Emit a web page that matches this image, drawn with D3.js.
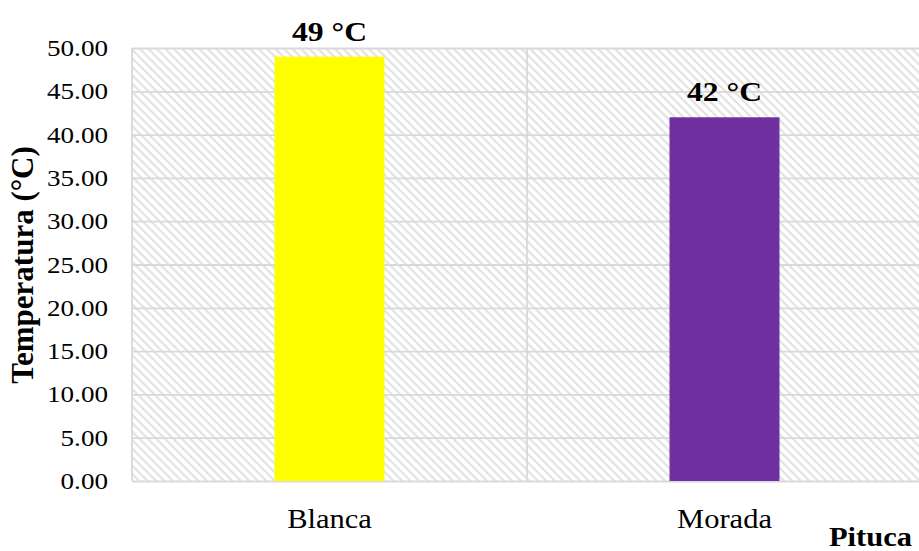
<!DOCTYPE html>
<html>
<head>
<meta charset="utf-8">
<script src="https://cdn.jsdelivr.net/npm/d3@7"></script>
<style>
  html, body { margin: 0; padding: 0; background: #ffffff; }
  svg { display: block; }
  text { font-family: "Liberation Serif", "Times New Roman", serif; fill: #000; }
</style>
</head>
<body>
<svg id="chart" width="919" height="551"></svg>
<script>
// Peak temperature per variety
const categories = ["Blanca", "Morada"];
const temperatures = [49, 42];
const barColors = ["#ffff00", "#7030a0"];
const valueLabels = ["49 °C", "42 °C"];
const yTicks = [0, 5, 10, 15, 20, 25, 30, 35, 40, 45, 50];

const svg = d3.select("#chart");
const margin = { left: 132, top: 48, right: -3, bottom: 70 };
const W = 919, H = 551;
const plotW = W - margin.left - margin.right;
const plotH = H - margin.top - margin.bottom;
const stretch = 1.13; // glyphs are drawn slightly wide

const x = d3.scaleBand().domain(categories).range([0, plotW]).paddingInner(0).paddingOuter(0);
const y = d3.scaleLinear().domain([0, 50]).range([plotH, 0]);

// diagonal hatch used as plot background
const defs = svg.append("defs");
const pat = defs.append("pattern")
  .attr("id", "hatch")
  .attr("patternUnits", "userSpaceOnUse")
  .attr("width", 6).attr("height", 6)
  .attr("patternTransform", "rotate(45)");
pat.append("rect").attr("width", 6).attr("height", 6).attr("fill", "#ffffff");
pat.append("rect").attr("x", 0).attr("y", 0).attr("width", 6).attr("height", 2.2).attr("fill", "#e2e2e2");

const g = svg.append("g").attr("transform", `translate(${margin.left},${margin.top})`);

g.append("rect")
  .attr("x", 0).attr("y", 0)
  .attr("width", plotW).attr("height", plotH)
  .attr("fill", "url(#hatch)");

// horizontal gridlines
g.append("g")
  .attr("class", "grid")
  .call(d3.axisLeft(y).tickValues(yTicks).tickSize(-plotW).tickFormat(""))
  .call(s => s.select(".domain").remove())
  .call(s => s.selectAll("line").attr("stroke", "#d9d9d9").attr("stroke-width", 1.8));

// category separators and left border
const seps = [0, x.step(), 2 * x.step()];
g.selectAll("line.sep").data(seps).enter().append("line")
  .attr("class", "sep")
  .attr("x1", d => d).attr("x2", d => d)
  .attr("y1", 0).attr("y2", plotH)
  .attr("stroke", "#d9d9d9").attr("stroke-width", 1.8);

// helper: text placed at (px, py), widened horizontally
function wideText(parent, px, py, str, size, weight, anchor) {
  const t = parent.append("g")
    .attr("transform", `translate(${px},${py}) scale(${stretch},1)`)
    .append("text")
    .attr("text-anchor", anchor)
    .style("font-size", size + "px")
    .style("font-weight", weight)
    .text(str);
  return t;
}

// y tick labels
yTicks.forEach(v => {
  wideText(g, -24, y(v) + 8, d3.format(".2f")(v), 24, "normal", "end");
});

// bars
const barW = 110;
g.selectAll("rect.bar").data(categories).enter().append("rect")
  .attr("class", "bar")
  .attr("x", (d) => x(d) + x.bandwidth() / 2 - barW / 2)
  .attr("y", (d, i) => y(temperatures[i]))
  .attr("width", barW)
  .attr("height", (d, i) => plotH - y(temperatures[i]))
  .attr("fill", (d, i) => barColors[i]);

// value labels
categories.forEach((c, i) => {
  wideText(g, x(c) + x.bandwidth() / 2, y(temperatures[i]) - 16, valueLabels[i], 28, "bold", "middle");
});

// category labels
categories.forEach(c => {
  wideText(g, x(c) + x.bandwidth() / 2, plotH + 47, c, 27, "normal", "middle");
});

// axis titles
svg.append("g")
  .attr("transform", "translate(33,265) rotate(-90)")
  .append("text")
  .attr("text-anchor", "middle")
  .style("font-size", "31px")
  .style("font-weight", "bold")
  .text("Temperatura (°C)");

wideText(svg, 912, 546, "Pituca", 27, "bold", "end");
</script>
</body>
</html>
